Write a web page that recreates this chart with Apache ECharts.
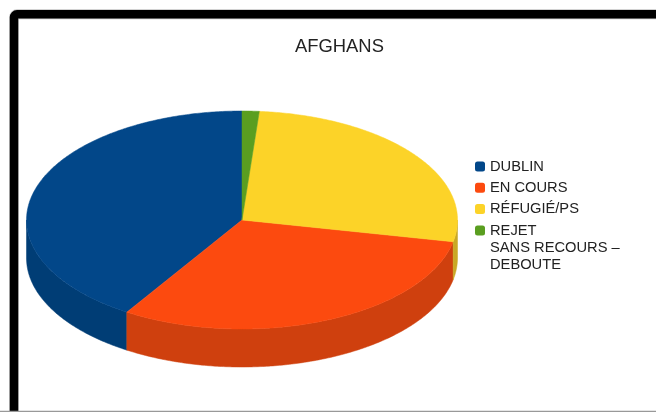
<!DOCTYPE html>
<html>
<head>
<meta charset="utf-8">
<style>
  html, body { margin: 0; padding: 0; background: #fff; }
  #chart { width: 656px; height: 412px; }
</style>
</head>
<body>
<div id="chart"></div>
<script src="https://cdn.jsdelivr.net/npm/echarts@6/dist/echarts.min.js"></script>
<script>
const categories = ['DUBLIN', 'EN COURS', 'RÉFUGIÉ/PS', 'REJET\nSANS RECOURS –\nDEBOUTE'];
const values = [32, 24, 21, 1];
const topColors = ['#024789', '#fc4a0f', '#fcd328', '#5a9e20'];
const sideColors = ['#003d75', '#cf400e', '#c9a825', '#47801a'];

const total = values.reduce((a, b) => a + b, 0);
const FONT = '"Liberation Sans", Arial, sans-serif';

// pie geometry, the slices run counterclockwise from twelve o'clock
const cx = 242, cy = 220, rx = 215.5, ry = 109, depth = 38;

const pt = (a, dy) => [cx - rx * Math.sin(a), cy - ry * Math.cos(a) + (dy || 0)];

const arcPoints = (a0, a1, dy) => {
  const n = Math.max(2, Math.ceil(Math.abs(a1 - a0) / 0.01));
  const out = [];
  for (let i = 0; i <= n; i++) out.push(pt(a0 + (a1 - a0) * i / n, dy));
  return out;
};

const renderSlice = (params, api) => {
  const start = api.value(0) / total * Math.PI * 2;
  const end = (api.value(0) + api.value(1)) / total * Math.PI * 2;
  const top = topColors[params.seriesIndex];
  const side = sideColors[params.seriesIndex];
  const children = [];
  // wall is only seen on the front half of the ellipse
  const a0 = Math.max(start, Math.PI / 2);
  const a1 = Math.min(end, Math.PI * 1.5);
  if (a1 > a0) {
    children.push({
      type: 'polygon',
      shape: { points: arcPoints(a0, a1, 0).concat(arcPoints(a1, a0, depth)) },
      style: { fill: side, stroke: side, lineWidth: 0.5 }
    });
  }
  children.push({
    type: 'polygon',
    shape: { points: [[cx, cy]].concat(arcPoints(start, end, 0)) },
    style: { fill: top, stroke: top, lineWidth: 0.5 }
  });
  return { type: 'group', children };
};

const starts = values.map((v, i) => values.slice(0, i).reduce((a, b) => a + b, 0));

const legendText = { fontFamily: FONT, fontSize: 14.7, color: '#222', lineHeight: 17 };

const chart = echarts.init(document.getElementById('chart'), null, { renderer: 'canvas' });
chart.setOption({
  animation: false,
  backgroundColor: '#fff',
  title: {
    text: 'AFGHANS',
    left: 295,
    top: 38,
    padding: 0,
    textStyle: { fontFamily: FONT, fontSize: 18.4, fontWeight: 'normal', color: '#222' }
  },
  legend: [
    {
      data: categories.slice(0, 3),
      orient: 'vertical',
      left: 475,
      top: 158,
      padding: 0,
      itemGap: 4.3,
      itemWidth: 10,
      itemHeight: 10,
      itemStyle: { borderWidth: 0 },
      selectedMode: false,
      textStyle: legendText
    },
    {
      data: [categories[3]],
      // two empty lines on top keep the swatch beside the first line of text
      formatter: name => '\n\n' + name,
      orient: 'vertical',
      left: 475,
      top: 188,
      padding: 0,
      itemWidth: 10,
      itemHeight: 10,
      itemStyle: { borderWidth: 0 },
      selectedMode: false,
      textStyle: legendText
    }
  ],
  series: categories.map((name, i) => ({
    type: 'custom',
    name,
    coordinateSystem: 'none',
    silent: true,
    itemStyle: { color: topColors[i] },
    renderItem: renderSlice,
    data: [[starts[i], values[i]]]
  })),
  graphic: [
    {
      // thin grey halo of the frame
      type: 'rect',
      silent: true,
      z: 99,
      shape: { x: 14, y: 14.3, width: 660, height: 420, r: 3 },
      style: { fill: 'none', stroke: '#c4c4c4', lineWidth: 10 }
    },
    {
      // picture frame round the chart
      type: 'rect',
      silent: true,
      z: 100,
      shape: { x: 14, y: 14.3, width: 660, height: 420, r: 3 },
      style: { fill: 'none', stroke: '#000', lineWidth: 8.4 }
    },
    {
      type: 'rect',
      silent: true,
      z: 101,
      shape: { x: 0, y: 410.7, width: 656, height: 1.3 },
      style: { fill: '#999' }
    }
  ]
});
</script>
</body>
</html>
